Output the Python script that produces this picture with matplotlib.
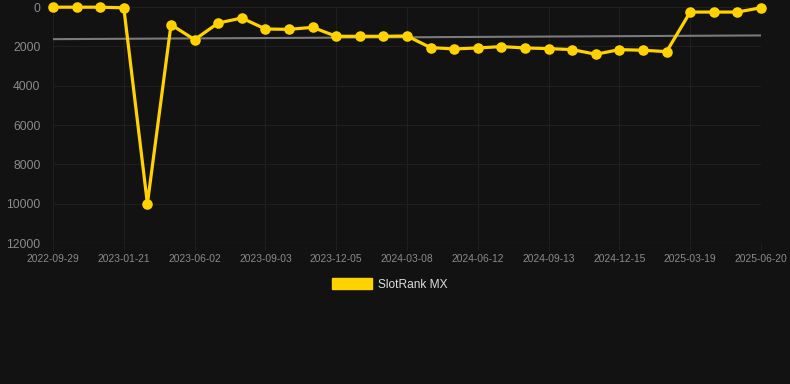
import numpy as np
import matplotlib.pyplot as plt

plt.rcParams['font.family'] = ['Liberation Sans', 'DejaVu Sans']

BG = '#121212'
COLOR_LINE = '#ffd200'
COLOR_TREND = '#7a7a7a'
COLOR_GRID = '#1f1f1f'
COLOR_TICK = '#8a8a8a'

# monthly rank samples (category axis, every 3rd date labelled)
tick_labels = ['2022-09-29', '2023-01-21', '2023-06-02', '2023-09-03', '2023-12-05',
               '2024-03-08', '2024-06-12', '2024-09-13', '2024-12-15', '2025-03-19',
               '2025-06-20']
rank = [10, 10, 10, 40, 10000, 900, 1660, 815, 561, 1119, 1136, 1034, 1490, 1490, 1490,
        1473, 2065, 2133, 2082, 2014, 2082, 2116, 2166, 2403, 2166, 2200, 2268,
        257, 257, 257, 37]
series_name = 'SlotRank MX'


def main():
    x = np.arange(len(rank))
    y = np.array(rank, dtype=float)

    # linear trend over the series
    k, b = np.polyfit(x, y, 1)
    trend = k * x + b

    fig = plt.figure(figsize=(7.9, 3.84), dpi=100, facecolor=BG)
    ax = fig.add_axes([53 / 790, 1 - 243 / 384, 708 / 790, 236 / 384])
    ax.set_facecolor(BG)

    ax.plot(x, trend, color=COLOR_TREND, linewidth=1.5, zorder=2)
    ax.plot(x, y, color=COLOR_LINE, linewidth=2.3, marker='o', markersize=7.6,
            markeredgewidth=0, solid_joinstyle='miter', zorder=3, clip_on=False)

    ax.set_xlim(0, len(rank) - 1)
    ax.set_ylim(12000, 0)
    ax.set_yticks(np.arange(0, 12001, 2000))
    ax.set_xticks(np.arange(0, len(rank), 3))
    ax.set_xticklabels(tick_labels)

    ax.grid(True, color=COLOR_GRID, linewidth=0.8)
    ax.set_axisbelow(True)
    for s in ax.spines.values():
        s.set_visible(False)
    ax.axhline(12000, color='#2a2a2a', linewidth=0.9, zorder=1)

    ax.tick_params(axis='x', colors=COLOR_GRID, length=5, width=0.8, pad=3,
                   labelcolor=COLOR_TICK, labelsize=7.4)
    ax.tick_params(axis='y', length=0, pad=9, labelcolor=COLOR_TICK, labelsize=8.7)

    # legend drawn as a swatch + label below the axes
    fig.patches.append(plt.Rectangle((332 / 790, 1 - 289 / 384), 40 / 790, 11 / 384,
                                     transform=fig.transFigure, color=COLOR_LINE))
    fig.text(378 / 790, 1 - 284.5 / 384, series_name, color='#dddddd', fontsize=8.6,
             va='center', ha='left')

    fig.savefig('out.png', dpi=100, facecolor=BG)


if __name__ == '__main__':
    main()
